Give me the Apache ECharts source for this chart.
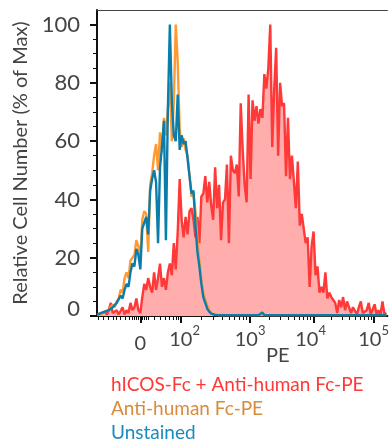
<!DOCTYPE html>
<html><head><meta charset="utf-8">
<script src="https://cdn.jsdelivr.net/npm/echarts@6/dist/echarts.min.js"></script>
<style>html,body{margin:0;padding:0;background:#fff}#c{width:392px;height:442px}</style>
</head><body><div id="c"></div>
<script>
// Histogram bins: channel = channelStart + channelStep * index (display channel units)
const channelStart = 0;
const channelStep = 2;
const hicos = [
0.5,0.3,1,0.5,1.5,0.5,2,4.5,1,0.5,
2,0.5,1,3,0.5,2,1,4.5,2,3,
6,2,1,6.5,11,9,13,10,8,15,
9,13,18,10,13,9,15,18,14,25,
16,29,47,33,27,34,28,36,37,33,
27,34,25,41,42,48,39,46,38,33,
51,37,45,26,39,40,52,25,55,50,
49,52,41,73,57,45,39,76,47,74,
67,72,66,71,68,83,78,85,100,58,
78,92,55,80,72,73,48,68,47,55,
46,37,53,31,35,30,25,27,10,24,
29,14,17,8,10,8,15,6,8,6.5,
5.5,4.5,1,5.5,3,6.5,2,5,3,1,
3,3,0.5,3,5,1,0.5,2,4.5,0.5,
1,4,0.5,2,0.5,5,0.5,1
];
const antiHuman = [
0.5,1,0.5,1,1.5,2,2,3,4,3,
5,6,9,8,13,15,13,19,20,21,
26,24,20,33,36,35,22,45,49,55,
59,50,63,56,68,62,71,80,60,73,
100,87,64,58,61,57,55,48,41,42,
36,26,19,12,8,5.5,3.5,2,1,0.8,
0.5,0.4,0.3,0.3,0.4,0.3,0.3,0.3,0.3,0.3,
0.3,0.3,0.3,0.3,0.3,0.3,0.3,0.3,0.3,0.3,
0.3,0.3,0.3,0.3,0.3,0.3,0.3,0.3,0.3,0.3,
0.3,0.3,0.3,0.3,0.3,0.3,0.3,0.3,0.3,0.3,
0.3,0.3,0.3,0.3,0.3,0.3,0.3,0.3,0.3,0.3,
0.3,0.3,0.3,0.3,0.3,0.3,0.3,0.3,0.3,0.3,
0.3,0.3,0.3,0.3,0.3,0.3,0.3,0.3,0.3,0.3,
0.3,0.3,0.3,0.3,0.3,0.3,0.3,0.3,0.3,0.3,
0.3,0.3,0.3,0.3,0.3,0.3,0.3,0.3
];
const unstained = [
0.5,0.5,1,0.5,1.5,1,2,1.5,3,2.5,
4.5,4,7,6,9,11,10,15,18,17,
23,21,16,30,32,34,28,43,47,50,
46,25,51,58,67,26,71,100,74,62,
60,76,57,62,59,60,54,48,42,43,
31,22,17,11,6.5,4.5,2.5,1.5,0.8,0.5,
0.4,0.3,0.3,0.3,0.3,0.3,0.3,0.3,0.3,0.3,
0.3,0.3,0.3,0.3,0.3,0.3,0.3,0.3,0.3,0.3,
0.3,0.3,0.3,0.3,1.2,0.3,0.3,0.3,0.3,0.3,
0.3,0.3,0.3,0.3,0.3,0.3,0.3,0.3,0.3,0.3,
0.3,0.3,0.3,0.3,0.3,0.3,0.3,0.3,0.3,0.3,
0.3,0.3,0.3,0.3,0.3,0.3,0.3,0.3,0.3,0.3,
0.3,0.3,0.3,0.3,0.3,0.3,0.3,0.3,0.3,0.3,
0.3,0.3,0.3,0.3,0.3,0.3,0.3,0.3,0.3,0.3,
0.3,0.3,0.3,0.3,0.3,0.3,0.3,0.3
];
const seriesNames = ['hICOS-Fc + Anti-human Fc-PE', 'Anti-human Fc-PE', 'Unstained'];
const yTickValues = [0, 20, 40, 60, 80, 100];
const xTickBase = ['0', '10', '10', '10', '10'];
const xTickExp = ['', '2', '3', '4', '5'];
const xTickChannel = [44, 85, 155, 220, 281];
const xLabelChannel = [44, 89, 155.5, 217, 281];
const xAxisTitle = 'PE';
const yAxisTitle = 'Relative Cell Number (% of Max)';

// minor tick channels (biexponential display)
const xMinor = [1,6,11,16,20,24,29,33,36,38,40,42,46,48,50,52,58,64,69,73,77,80,83];
for (let k = 2; k <= 9; k++) {
  const l = Math.log10(k);
  xMinor.push(85 + 70 * l, 155 + 65 * l, 220 + 61 * l);
}
const yMinor = [];
for (let v = 5; v < 105; v += 5) if (v % 20 !== 0) yMinor.push(v);

const toPts = arr => arr.map((v, i) => [channelStart + channelStep * i, v]);

const FONT = 'Lato';
const TXT = '#444';
const colors = ['#ff3838', '#ff9a33', '#0b7dab'];
const legendColors = ['#ff3838', '#d98a3a', '#1a8bbf'];

const chart = echarts.init(document.getElementById('c'));
chart.setOption({
  animation: false,
  grid: { left: 97, right: 0, top: 10, bottom: 126 },
  xAxis: [
    {
      type: 'value', min: 0, max: 295, position: 'bottom',
      axisLine: { show: true, lineStyle: { color: '#111', width: 2 } },
      axisTick: { show: true, length: 7, customValues: xTickChannel, lineStyle: { color: '#111', width: 2 } },
      axisLabel: {
        customValues: xLabelChannel, margin: 8, color: TXT, fontFamily: FONT, fontSize: 20,
        formatter: v => {
          const i = xLabelChannel.indexOf(v);
          if (i < 0) return '';
          return xTickExp[i] ? '{b|' + xTickBase[i] + '}{s|' + xTickExp[i] + '}' : '{z|' + xTickBase[i] + '}';
        },
        rich: {
          b: { fontSize: 20, fontFamily: FONT, color: TXT, lineHeight: 26, verticalAlign: 'bottom' },
          s: { fontSize: 13, fontFamily: FONT, color: TXT, lineHeight: 26, verticalAlign: 'top' },
          z: { fontSize: 20, fontFamily: FONT, color: TXT, lineHeight: 26, padding: [13, 0, 0, 0] }
        }
      },
      splitLine: { show: false },
      name: xAxisTitle, nameLocation: 'middle', nameGap: 30, nameMoveOverlap: false,
      nameTextStyle: { color: TXT, fontFamily: FONT, fontSize: 20, padding: [0, 0, 0, 71] }
    },
    {
      type: 'value', min: 0, max: 295, position: 'bottom',
      axisLine: { show: false },
      axisTick: { show: true, length: 4, customValues: xMinor, lineStyle: { color: '#111', width: 1 } },
      axisLabel: { show: false }, splitLine: { show: false }
    },
    {
      type: 'value', min: 0, max: 295, position: 'top',
      axisLine: { show: true, lineStyle: { color: '#444', width: 1 } },
      axisTick: { show: false }, axisLabel: { show: false }, splitLine: { show: false }
    }
  ],
  yAxis: [
    {
      type: 'value', min: 0, max: 105, position: 'left',
      axisLine: { show: true, lineStyle: { color: '#111', width: 2 } },
      axisTick: { show: true, length: 7, customValues: yTickValues, lineStyle: { color: '#111', width: 2 } },
      axisLabel: {
        customValues: yTickValues, margin: 17, color: TXT, fontFamily: FONT, fontSize: 22,
        formatter: v => v === 0 ? '{z|0}' : String(v),
        rich: { z: { fontSize: 22, fontFamily: FONT, color: TXT, padding: [0, 0, 14, 0] } }
      },
      splitLine: { show: false },
      name: yAxisTitle, nameLocation: 'middle', nameGap: 62,
      nameTextStyle: { color: TXT, fontFamily: FONT, fontSize: 20 }
    },
    {
      type: 'value', min: 0, max: 105, position: 'left',
      axisLine: { show: false },
      axisTick: { show: true, length: 4, customValues: yMinor, lineStyle: { color: '#111', width: 1 } },
      axisLabel: { show: false }, splitLine: { show: false }
    }
  ],
  series: [
    {
      name: seriesNames[0], type: 'line', data: toPts(hicos), symbol: 'none',
      lineStyle: { color: colors[0], width: 2.4 },
      areaStyle: { color: '#ffadad', opacity: 1 }, z: 2
    },
    {
      name: seriesNames[1], type: 'line', data: toPts(antiHuman), symbol: 'none',
      lineStyle: { color: colors[1], width: 2.4 }, z: 3
    },
    {
      name: seriesNames[2], type: 'line', data: toPts(unstained), symbol: 'none',
      lineStyle: { color: colors[2], width: 2.4 }, z: 4
    }
  ],
  graphic: seriesNames.map((n, i) => ({
    type: 'text', left: 111, top: 375 + i * 24,
    style: { text: n, fill: legendColors[i], font: '19px Lato' }
  }))
});
</script>
</body></html>
